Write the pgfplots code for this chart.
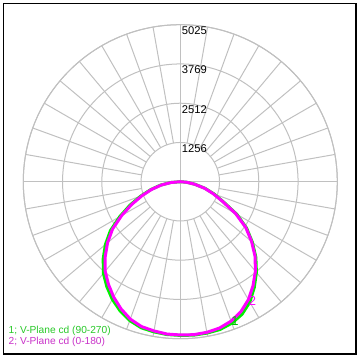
\documentclass[border=0pt]{standalone}
\usepackage{fontspec}
\setmainfont{Liberation Sans}
\usepackage{pgfplots}
\pgfplotsset{compat=1.18}
\usepgfplotslibrary{polar}
\definecolor{gridgray}{RGB}{192,192,192}
\definecolor{cgreen}{RGB}{0,240,0}
\definecolor{cmag}{RGB}{255,0,255}
\definecolor{tgreen}{RGB}{40,200,40}
\definecolor{tmag}{RGB}{200,50,200}
\begin{document}
\begin{tikzpicture}
\begin{polaraxis}[
  scale only axis, width=157pt, height=157pt,
  ymin=0, ymax=5025,
  xtick={0,90,180,270}, ytick={1256,2512,3769,5025},
  xticklabels={}, yticklabels={},
  grid=major, major grid style={draw=gridgray, line width=0.5pt},
  axis line style={draw=gridgray, line width=0.5pt},
  major tick length=0pt, clip=false,
]
\pgfplotsinvokeforeach{10,20,30,40,50,60,70,80,100,110,120,130,140,150,160,170,190,200,210,220,230,240,250,260,280,290,300,310,320,330,340,350}{
  \draw[gridgray, line width=0.5pt] (axis cs:#1,1256) -- (axis cs:#1,5025);
}
\coordinate (c) at (axis cs:0,0);
% 1: V-Plane cd (90-270)
\addplot[cgreen, line width=1.5pt, no markers] coordinates {
(180,0) (185,320) (190,650) (195,980) (200,1350) (205,1780) (210,2240) (215,2730)
(220,3130) (225,3490) (230,3830) (235,4100) (240,4350) (245,4560) (250,4730)
(255,4840) (260,4880) (265,4910) (270,4920) (275,4930) (280,4920) (285,4900)
(290,4820) (295,4680) (300,4450) (305,4130) (310,3790) (315,3420) (320,3010)
(325,2590) (330,2090) (335,1520) (340,1150) (345,820) (350,480) (355,210) (360,0)
};
% 2: V-Plane cd (0-180)
\addplot[cmag, line width=1.5pt, no markers] coordinates {
(180,0) (185,300) (190,620) (195,950) (200,1300) (205,1710) (210,2170) (215,2650)
(220,3040) (225,3400) (230,3740) (235,4010) (240,4265) (245,4490) (250,4680)
(255,4800) (260,4850) (265,4895) (270,4906) (275,4915) (280,4895) (285,4850)
(290,4750) (295,4590) (300,4360) (305,4060) (310,3740) (315,3385) (320,2980)
(325,2560) (330,2050) (335,1490) (340,1120) (345,800) (350,460) (355,200) (360,0)
};
\pgfplotsinvokeforeach{1256,2512,3769,5025}{
  \node[anchor=north west, inner sep=0pt, font=\fontsize{5.6}{6}\selectfont, xshift=0.6pt, yshift=-0.8pt] at (axis cs:90,#1) {#1};
}
\end{polaraxis}
\node[text=cgreen!80!black, font=\fontsize{6.5}{7}\selectfont, inner sep=0pt] at ([shift={(27.35pt,-69.9pt)}]c) {1};
\node[text=cmag, font=\fontsize{6.5}{7}\selectfont, inner sep=0pt] at ([shift={(36.1pt,-59.4pt)}]c) {2};
\node[anchor=base west, text=tgreen, font=\fontsize{5.1}{6}\selectfont, inner sep=0pt] at ([shift={(-86pt,-75.9pt)}]c) {1; V-Plane cd (90-270)};
\node[anchor=base west, text=tmag, font=\fontsize{5.1}{6}\selectfont, inner sep=0pt] at ([shift={(-86pt,-81.4pt)}]c) {2; V-Plane cd (0-180)};
\draw[black, line width=0.6pt] ([shift={(-88.5pt,-86.15pt)}]c) rectangle ([shift={(87.85pt,89.2pt)}]c);
\pgfresetboundingbox
\path ([shift={(-90.15pt,-89.15pt)}]c) rectangle ([shift={(89.85pt,90.85pt)}]c);
\end{tikzpicture}
\end{document}
